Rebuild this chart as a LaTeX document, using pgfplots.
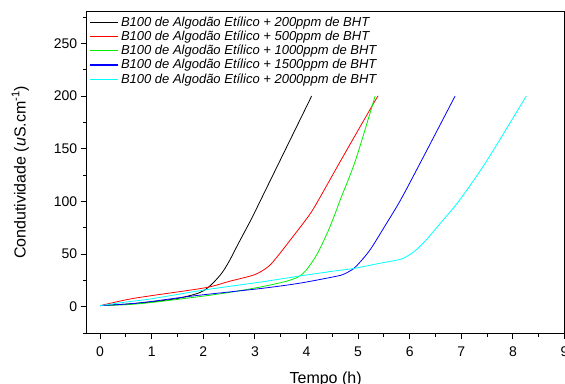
\documentclass[border=0pt]{standalone}
\usepackage{fontspec}
\setmainfont{Liberation Sans}
\usepackage{pgfplots}
\pgfplotsset{compat=1.18}
\usetikzlibrary{calc}
\definecolor{cgreen}{RGB}{0,240,0}
\definecolor{ccyan}{RGB}{0,255,255}
\definecolor{cblue}{RGB}{0,0,255}
\definecolor{cred}{RGB}{255,0,0}
\begin{document}
\begin{tikzpicture}
\begin{axis}[
  scale only axis,
  width=477.8pt, height=321.3pt,
  xmin=-0.26, xmax=9, ymin=-25, ymax=280,
  xtick={0,1,...,9}, minor xtick={0.5,1.5,...,8.5},
  ytick={0,50,...,250}, minor ytick={-25,25,75,...,275},
  tick align=outside, xtick pos=lower, ytick pos=left,
  major tick length=6pt, minor tick length=3.5pt,
  axis line style={line width=1pt},
  every tick/.style={black, line width=0.9pt},
  tick label style={font=\fontsize{14}{16}\selectfont},
  xticklabel shift=4pt,
  /pgf/number format/assume math mode=true,
  xlabel={Tempo (h)},
  ylabel={Condutividade (\textit{u}S.cm\textsuperscript{-1})},
  xlabel shift=9pt, ylabel shift=18pt,
  label style={font=\fontsize{16}{18}\selectfont},
  legend style={at={(0,1)}, anchor=north west, draw=none, fill=none,
    font=\fontsize{13}{14}\selectfont\itshape, row sep=-0.9pt,
    xshift=0pt, yshift=-1pt},
  legend cell align=left,
  legend image code/.code={\draw[#1, line width=1.1pt] (0pt,0pt) -- (28pt,0pt);},
  every axis plot/.append style={line width=0.8pt, smooth},
]
\addplot[black] coordinates {(0,1) (0.5,2.4) (1,4.5) (1.5,7.8) (1.85,12) (2.0,15) (2.1,18.5) (2.2,23) (2.36,32) (2.5,43) (2.68,60) (2.94,84) (3.1,100) (3.49,139) (4.1,200)};
\addlegendentry{B100 de Algodão Etílico + 200ppm de BHT}
\addplot[cred] coordinates {(0,1) (0.55,7) (1,10.5) (2.04,18) (2.5,24) (3.0,30.5) (3.27,38.5) (3.45,48.5) (3.65,61) (4.04,86) (4.23,101) (4.65,137.5) (5.3,193) (5.39,200)};
\addlegendentry{B100 de Algodão Etílico + 500ppm de BHT}
\addplot[cgreen] coordinates {(0,1) (0.55,2) (1,4) (1.84,9) (2.5,13.5) (3.14,19) (3.6,24) (3.85,28.5) (4.0,35) (4.17,47) (4.27,56) (4.43,73) (4.56,89) (4.65,101) (4.95,139) (5.33,200)};
\addlegendentry{B100 de Algodão Etílico + 1000ppm de BHT}
\addplot[cblue] coordinates {(0,1) (0.55,2.6) (1,5) (1.84,10.4) (3.14,17.4) (3.88,22.4) (4.56,28.7) (4.72,30.8) (4.91,36) (5.05,43) (5.24,54.5) (5.5,75) (5.82,101) (6.21,137) (6.88,200)};
\addlegendentry{B100 de Algodão Etílico + 1500ppm de BHT}
\addplot[ccyan] coordinates {(0,1) (0.55,4.7) (1,7.5) (2.04,16) (3.14,23.6) (3.88,29.2) (4.56,34) (4.91,36.2) (5.4,41) (5.82,45) (6.01,49.7) (6.15,55) (6.33,64) (6.66,83) (6.98,102) (7.5,139) (8.26,200)};
\addlegendentry{B100 de Algodão Etílico + 2000ppm de BHT}
\end{axis}
\pgfresetboundingbox
\path[use as bounding box] ($(current axis.south west)+(-86.7pt,-50pt)$) rectangle ($(current axis.north east)+(0.5pt,11.7pt)$);
\end{tikzpicture}
\end{document}
